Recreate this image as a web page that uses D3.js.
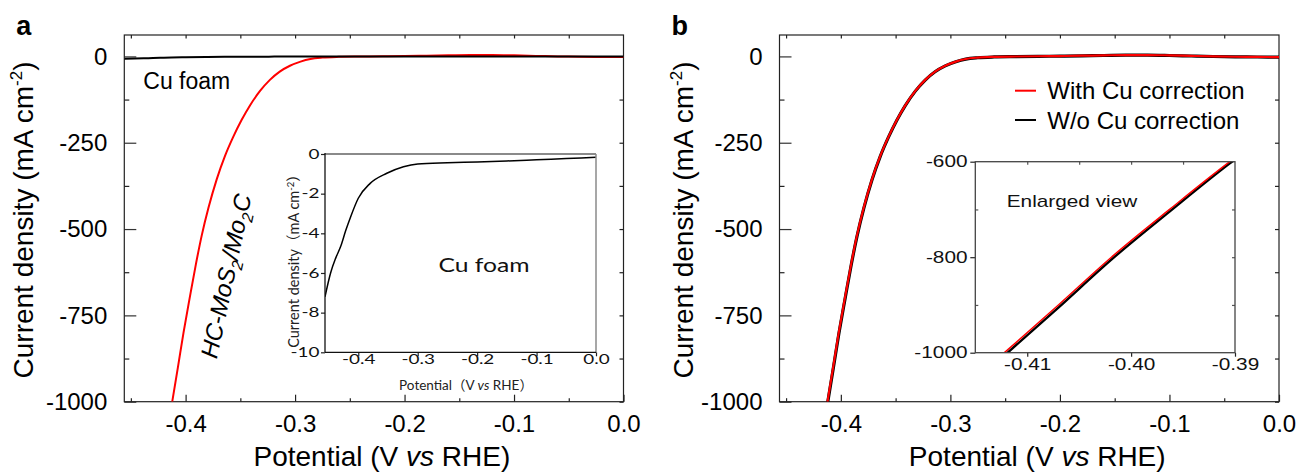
<!DOCTYPE html>
<html>
<head>
<meta charset="utf-8">
<script src="https://cdn.jsdelivr.net/npm/d3@7"></script>
<style>
  body { margin: 0; background: #fff; }
  svg { display: block; }
</style>
</head>
<body>
<svg id="chart" width="1298" height="472"></svg>
<script>
// HC-MoS2/Mo2C polarization curve (V vs RHE, mA cm-2)
var potential = [-0.4122, -0.4070, -0.4019, -0.3963, -0.3905, -0.3853, -0.3790, -0.3716, -0.3640,
  -0.3565, -0.3490, -0.3412, -0.3320, -0.3230, -0.3140, -0.3047, -0.2950, -0.2860, -0.2750,
  -0.2600, -0.2400, -0.2200, -0.2000, -0.1800, -0.1600, -0.1400, -0.1200, -0.1000, -0.0800,
  -0.0600, -0.0400, -0.0200, 0.0000];
var withCorrection = [-1000, -900, -800, -700, -600, -519, -437, -356, -288,
  -233, -185, -142, -100, -68, -44, -27, -15, -7.5, -3.5,
  -1.3, -0.3, 0.5, 1, 2, 3, 4, 4, 3, 1.5,
  0, -1, -1.5, -2];
var woCorrection = [-1006, -905.5, -805, -704.5, -603.5, -522, -439.5, -358, -289.5,
  -234, -185.8, -142.6, -100.5, -68.4, -44.3, -27.3, -15.3, -7.8, -3.8,
  -1.6, -0.6, 0.2, 0.7, 1.7, 2.7, 3.7, 3.7, 2.7, 1.2,
  -0.3, -1.2, -1.7, -2.2];

// bare Cu foam
var cuPotential = [-0.456, -0.4466, -0.4380, -0.4297, -0.4210, -0.4128, -0.400, -0.380, -0.352,
  -0.324, -0.300, -0.250, -0.200, -0.150, -0.100, -0.050, 0.000];
var cuCurrent = [-7.2, -6.0, -5.25, -4.67, -3.85, -3.16, -2.23, -1.48, -0.97,
  -0.64, -0.50, -0.44, -0.40, -0.35, -0.29, -0.23, -0.17];

var xTicks = [-0.4, -0.3, -0.2, -0.1, 0.0];
var xMinor = [-0.45, -0.35, -0.25, -0.15, -0.05];
var yTicks = [0, -250, -500, -750, -1000];
var yMinor = [-125, -375, -625, -875];
var insetAYTicks = [0, -2, -4, -6, -8, -10];
var insetBXTicks = [-0.41, -0.40, -0.39];
var insetBYTicks = [-600, -800, -1000];
var legendLabels = ["With Cu correction", "W/o Cu correction"];
var legendColors = ["#ff0000", "#000000"];

var svg = d3.select("#chart");
var ARIAL = "'Liberation Sans', Arial, sans-serif";
var CALIBRI = "Lato, 'Noto Sans CJK SC', sans-serif";

var plotTop = 35, plotBottom = 401.7;

function fmt1(d) { return d.toFixed(1); }
function fmt2(d) { return d.toFixed(2); }

function styleAxis(sel, color) {
  sel.select(".domain").remove();
  sel.selectAll(".tick line").attr("stroke", color || "#222").attr("stroke-width", 1.2);
}

function mainPanel(left, right, letter, titleX) {
  var x = d3.scaleLinear().domain([-0.456, 0]).range([left, right]);
  var y = d3.scaleLinear().domain([-1000, 62]).range([plotBottom, plotTop]);
  var g = svg.append("g");

  // minor ticks
  g.append("g").attr("transform", "translate(" + left + ",0)")
    .call(d3.axisLeft(y).tickValues(yMinor).tickSize(-5).tickFormat(""))
    .call(styleAxis);
  g.append("g").attr("transform", "translate(" + right + ",0)")
    .call(d3.axisRight(y).tickValues(yMinor.concat(yTicks)).tickSize(-4).tickFormat(""))
    .call(styleAxis);
  g.append("g").attr("transform", "translate(0," + plotBottom + ")")
    .call(d3.axisBottom(x).tickValues(xMinor).tickSize(-3.5).tickFormat(""))
    .call(styleAxis);
  g.append("g").attr("transform", "translate(0," + plotTop + ")")
    .call(d3.axisTop(x).tickValues(xMinor.concat(xTicks.slice(0, 4))).tickSize(-3.5).tickFormat(""))
    .call(styleAxis);

  // major ticks
  var ya = g.append("g").attr("transform", "translate(" + left + ",0)")
    .call(d3.axisLeft(y).tickValues(yTicks).tickSizeInner(-12).tickSizeOuter(0)
      .tickPadding(17).tickFormat(function(d) { return String(d); }))
    .call(styleAxis, "#333");
  ya.selectAll("text").attr("font-family", ARIAL).attr("font-size", 24).attr("fill", "#000");
  var xa = g.append("g").attr("transform", "translate(0," + plotBottom + ")")
    .call(d3.axisBottom(x).tickValues(xTicks).tickSizeInner(-7).tickSizeOuter(0)
      .tickPadding(13).tickFormat(fmt1))
    .call(styleAxis);
  xa.selectAll("text").attr("font-family", ARIAL).attr("font-size", 24).attr("fill", "#000");

  g.append("rect").attr("x", left).attr("y", plotTop)
    .attr("width", right - left).attr("height", plotBottom - plotTop)
    .attr("fill", "none").attr("stroke", "#222").attr("stroke-width", 1.2);

  // clip
  var id = "clip" + letter;
  svg.append("clipPath").attr("id", id).append("rect")
    .attr("x", left).attr("y", plotTop).attr("width", right - left).attr("height", plotBottom - plotTop);

  // titles
  g.append("text").attr("x", left - 108).attr("y", 35)
    .attr("font-family", ARIAL).attr("font-weight", "bold").attr("font-size", 27)
    .text(letter);

  var xt = g.append("text").attr("x", (left + right) / 2 + 8).attr("y", 466)
    .attr("text-anchor", "middle").attr("font-family", ARIAL).attr("font-size", 28);
  xt.append("tspan").text("Potential (V  ");
  xt.append("tspan").attr("font-style", "italic").text("vs");
  xt.append("tspan").text(" RHE)");

  var yt = g.append("text")
    .attr("transform", "translate(" + titleX + ",220) rotate(-90)")
    .attr("text-anchor", "middle").attr("font-family", ARIAL).attr("font-size", 28);
  yt.append("tspan").text("Current density (mA cm");
  yt.append("tspan").attr("dy", -11).attr("font-size", 17).text("-2");
  yt.append("tspan").attr("dy", 11).text(")");

  return { g: g, x: x, y: y, clip: "url(#" + id + ")" };
}

// ---------- panel a ----------
var a = mainPanel(124.3, 623.5, "a", 33);

var lineA = d3.line().curve(d3.curveMonotoneX)
  .x(function(d) { return a.x(d[0]); })
  .y(function(d) { return a.y(d[1]); });

a.g.append("path")
  .datum(d3.zip(potential, withCorrection))
  .attr("d", lineA).attr("clip-path", a.clip)
  .attr("fill", "none").attr("stroke", "#ff0000").attr("stroke-width", 2);
a.g.append("path")
  .datum(d3.zip(cuPotential, cuCurrent))
  .attr("d", lineA).attr("clip-path", a.clip)
  .attr("fill", "none").attr("stroke", "#000").attr("stroke-width", 2);

a.g.append("text").attr("x", 143.3).attr("y", 89.3)
  .attr("font-family", ARIAL).attr("font-size", 23).text("Cu foam");

var hc = a.g.append("text")
  .attr("transform", "translate(226,276) rotate(-78)")
  .attr("dy", "0.35em").attr("text-anchor", "middle")
  .attr("font-family", ARIAL).attr("font-size", 24).attr("font-style", "italic");
hc.append("tspan").text("HC-MoS");
hc.append("tspan").attr("dy", 6).attr("font-size", 16).text("2");
hc.append("tspan").attr("dy", -6).text("/Mo");
hc.append("tspan").attr("dy", 6).attr("font-size", 16).text("2");
hc.append("tspan").attr("dy", -6).text("C");

// inset a : Cu foam only
var iaL = 325, iaR = 596, iaT = 154, iaB = 352.3;
var iax = d3.scaleLinear().domain([-0.456, 0]).range([iaL, iaR]);
var iay = d3.scaleLinear().domain([-10, 0]).range([iaB, iaT]);
var ia = svg.append("g");
ia.append("rect").attr("x", iaL).attr("y", iaT).attr("width", iaR - iaL).attr("height", iaB - iaT)
  .attr("fill", "#fff");
svg.append("clipPath").attr("id", "clipIA").append("rect")
  .attr("x", iaL).attr("y", iaT).attr("width", iaR - iaL).attr("height", iaB - iaT);

var iaYAxis = ia.append("g").attr("transform", "translate(" + iaL + ",0)")
  .call(d3.axisLeft(iay).tickValues(insetAYTicks).tickSize(4).tickPadding(0)
    .tickFormat(function(d) { return String(d); }))
  .call(styleAxis);
iaYAxis.selectAll("text").attr("font-family", CALIBRI).attr("font-size", 13.5)
  .attr("fill", "#111").attr("transform", "scale(1.4,1)");
var iaXAxis = ia.append("g").attr("transform", "translate(0," + iaB + ")")
  .call(d3.axisBottom(iax).tickValues(xTicks).tickSize(4).tickFormat(fmt1))
  .call(styleAxis);
iaXAxis.selectAll("text").attr("y", 2.5).attr("font-family", CALIBRI).attr("font-size", 13.5)
  .attr("fill", "#111").attr("transform", "scale(1.4,1)");

ia.append("path")
  .datum(d3.zip(cuPotential, cuCurrent))
  .attr("d", d3.line().curve(d3.curveMonotoneX)
    .x(function(d) { return iax(d[0]); })
    .y(function(d) { return iay(d[1]); }))
  .attr("clip-path", "url(#clipIA)")
  .attr("fill", "none").attr("stroke", "#000").attr("stroke-width", 1.5);

ia.append("line").attr("x1", iaL).attr("x2", iaR).attr("y1", iaT).attr("y2", iaT)
  .attr("stroke", "#8a8a8a").attr("stroke-width", 2);
ia.append("line").attr("x1", iaR).attr("x2", iaR).attr("y1", iaT).attr("y2", iaB)
  .attr("stroke", "#8a8a8a").attr("stroke-width", 1.5);
ia.append("line").attr("x1", iaL).attr("x2", iaL).attr("y1", iaT - 1).attr("y2", iaB)
  .attr("stroke", "#111").attr("stroke-width", 1.3);
ia.append("line").attr("x1", iaL).attr("x2", iaR).attr("y1", iaB).attr("y2", iaB)
  .attr("stroke", "#111").attr("stroke-width", 1.3);

ia.append("text").attr("transform", "translate(484,271.7) scale(1.3,1)")
  .attr("text-anchor", "middle").attr("font-family", CALIBRI).attr("font-size", 19)
  .attr("fill", "#111").text("Cu foam");

var iaxt = ia.append("text").attr("x", 466).attr("y", 389.5)
  .attr("text-anchor", "middle").attr("font-family", CALIBRI).attr("font-size", 13.5).attr("fill", "#222");
iaxt.append("tspan").text("Potential（V ");
iaxt.append("tspan").attr("font-style", "italic").text("vs");
iaxt.append("tspan").text(" RHE）");

var iayt = ia.append("text").attr("transform", "translate(299,257.5) rotate(-90)")
  .attr("text-anchor", "middle").attr("font-family", CALIBRI).attr("font-size", 14.5).attr("fill", "#222");
iayt.append("tspan").text("Current density（mA cm");
iayt.append("tspan").attr("dy", -5).attr("font-size", 9.5).text("-2");
iayt.append("tspan").attr("dy", 5).text("）");

// ---------- panel b ----------
var b = mainPanel(779.5, 1279, "b", 693);

var lineB = d3.line().curve(d3.curveMonotoneX)
  .x(function(d) { return b.x(d[0]); })
  .y(function(d) { return b.y(d[1]); });

b.g.append("path")
  .datum(d3.zip(potential, woCorrection))
  .attr("d", lineB).attr("clip-path", b.clip)
  .attr("fill", "none").attr("stroke", "#000").attr("stroke-width", 3.2);
b.g.append("path")
  .datum(d3.zip(potential, withCorrection))
  .attr("d", lineB).attr("clip-path", b.clip)
  .attr("fill", "none").attr("stroke", "#ff0000").attr("stroke-width", 2.2);

// legend
var leg = b.g.selectAll(".leg").data(legendLabels).enter().append("g")
  .attr("transform", function(d, i) { return "translate(1015," + (90.7 + i * 29.3) + ")"; });
leg.append("line").attr("x1", 0).attr("x2", 21).attr("y1", 0).attr("y2", 0)
  .attr("stroke", function(d, i) { return legendColors[i]; }).attr("stroke-width", 2);
leg.append("text").attr("x", 32.3).attr("y", 8.6)
  .attr("font-family", ARIAL).attr("font-size", 24).text(function(d) { return d; });

// inset b : enlarged view
var ibL = 975.3, ibR = 1235, ibT = 161.7, ibB = 352.7;
var ibx = d3.scaleLinear().domain([-0.415, -0.39]).range([ibL, ibR]);
var iby = d3.scaleLinear().domain([-1000, -600]).range([ibB, ibT]);
var ib = svg.append("g");
ib.append("rect").attr("x", ibL).attr("y", ibT).attr("width", ibR - ibL).attr("height", ibB - ibT)
  .attr("fill", "#fff");
svg.append("clipPath").attr("id", "clipIB").append("rect")
  .attr("x", ibL).attr("y", ibT).attr("width", ibR - ibL).attr("height", ibB - ibT);

ib.append("g").attr("transform", "translate(" + ibL + ",0)")
  .call(d3.axisLeft(iby).tickValues([-700, -900]).tickSize(-3).tickFormat(""))
  .call(styleAxis, "#555");
ib.append("g").attr("transform", "translate(" + ibR + ",0)")
  .call(d3.axisRight(iby).tickValues([-700, -800, -900]).tickSize(-3).tickFormat(""))
  .call(styleAxis, "#555");
ib.append("g").attr("transform", "translate(0," + ibT + ")")
  .call(d3.axisTop(ibx).tickValues([-0.41, -0.405, -0.40, -0.395]).tickSize(-3).tickFormat(""))
  .call(styleAxis, "#555");

var ibYAxis = ib.append("g").attr("transform", "translate(" + ibL + ",0)")
  .call(d3.axisLeft(iby).tickValues(insetBYTicks).tickSize(5).tickPadding(1)
    .tickFormat(function(d) { return String(d); }))
  .call(styleAxis);
ibYAxis.selectAll("text").attr("font-family", ARIAL).attr("font-size", 16)
  .attr("fill", "#111").attr("transform", "scale(1.3,1)");
var ibXAxis = ib.append("g").attr("transform", "translate(0," + ibB + ")")
  .call(d3.axisBottom(ibx).tickValues(insetBXTicks).tickSize(4).tickPadding(2).tickFormat(fmt2))
  .call(styleAxis);
ibXAxis.selectAll("text").attr("font-family", ARIAL).attr("font-size", 16)
  .attr("fill", "#111").attr("transform", "scale(1.3,1)");

var lineIB = d3.line().curve(d3.curveMonotoneX)
  .x(function(d) { return ibx(d[0]); })
  .y(function(d) { return iby(d[1]); });
ib.append("path").datum(d3.zip(potential, woCorrection))
  .attr("d", lineIB).attr("clip-path", "url(#clipIB)")
  .attr("fill", "none").attr("stroke", "#000").attr("stroke-width", 2.4);
ib.append("path").datum(d3.zip(potential, withCorrection))
  .attr("d", lineIB).attr("clip-path", "url(#clipIB)")
  .attr("fill", "none").attr("stroke", "#ff0000").attr("stroke-width", 1.5);

ib.append("rect").attr("x", ibL).attr("y", ibT).attr("width", ibR - ibL).attr("height", ibB - ibT)
  .attr("fill", "none").attr("stroke", "#444").attr("stroke-width", 1.3);

ib.append("text").attr("transform", "translate(1006.7,206.7) scale(1.3,1)")
  .attr("font-family", ARIAL).attr("font-size", 16).attr("fill", "#111").text("Enlarged view");
</script>
</body>
</html>
